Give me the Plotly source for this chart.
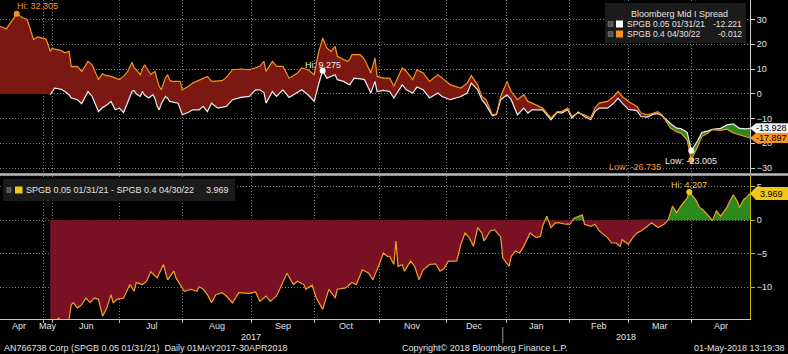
import numpy as np
import pandas as pd
import plotly.graph_objects as go

# ---------------- data ----------------
top_dates = [
    "2017-05-07", "2017-05-10", "2017-05-15", "2017-05-18", "2017-05-20", "2017-05-23", "2017-05-25", "2017-05-29",
    "2017-05-31", "2017-06-01", "2017-06-02", "2017-06-05", "2017-06-07", "2017-06-09", "2017-06-10", "2017-06-13", "2017-06-15", "2017-06-18",
    "2017-06-20", "2017-06-23", "2017-06-25", "2017-06-26", "2017-06-29", "2017-07-01", "2017-07-03", "2017-07-05", "2017-07-07", "2017-07-09",
    "2017-07-10", "2017-07-11", "2017-07-13", "2017-07-14", "2017-07-15", "2017-07-17", "2017-07-18", "2017-07-19", "2017-07-20", "2017-07-21",
    "2017-07-22", "2017-07-23", "2017-07-25", "2017-07-26", "2017-07-27", "2017-07-28", "2017-07-31", "2017-08-01", "2017-08-02", "2017-08-05",
    "2017-08-07", "2017-08-10", "2017-08-12", "2017-08-14", "2017-08-16", "2017-08-19", "2017-08-21", "2017-08-23", "2017-08-26", "2017-08-30",
    "2017-09-03", "2017-09-06", "2017-09-08", "2017-09-10", "2017-09-11", "2017-09-14", "2017-09-16", "2017-09-19", "2017-09-22", "2017-09-26",
    "2017-09-28", "2017-10-01", "2017-10-04", "2017-10-06", "2017-10-08", "2017-10-10", "2017-10-12", "2017-10-14", "2017-10-15", "2017-10-18",
    "2017-10-20", "2017-10-21", "2017-10-22", "2017-10-23", "2017-10-26", "2017-10-28", "2017-10-31", "2017-11-02", "2017-11-03", "2017-11-06",
    "2017-11-09", "2017-11-11", "2017-11-15", "2017-11-17", "2017-11-20", "2017-11-22", "2017-11-25", "2017-11-28", "2017-12-02", "2017-12-04",
    "2017-12-08", "2017-12-13", "2017-12-16", "2017-12-18", "2017-12-21", "2017-12-23", "2017-12-25", "2017-12-28", "2017-12-30", "2018-01-01",
    "2018-01-04", "2018-01-06", "2018-01-09", "2018-01-12", "2018-01-14", "2018-01-16", "2018-01-19", "2018-01-21", "2018-01-25", "2018-01-28",
    "2018-01-30", "2018-02-02", "2018-02-04", "2018-02-07", "2018-02-10", "2018-02-13", "2018-02-15", "2018-02-17", "2018-02-21", "2018-02-24",
    "2018-02-26", "2018-02-28", "2018-03-03", "2018-03-07", "2018-03-09", "2018-03-12", "2018-03-15", "2018-03-17", "2018-03-19", "2018-03-23",
    "2018-03-26", "2018-03-28", "2018-03-31", "2018-04-02", "2018-04-05", "2018-04-07", "2018-04-10", "2018-04-12", "2018-04-16", "2018-04-19",
    "2018-04-22", "2018-04-25", "2018-04-28", "2018-04-30",
]

# SPGB 0.4 04/30/22 (orange)
spgb_04_2022 = [
    27.3, 26.2, 32.305, 30.6, 30.0, 21.9, 23.0, 22.1,
    17.1, 18.5, 18.0, 17.5, 16.5, 17.1, 11.0, 11.1, 9.0, 13.1,
    11.7, 5.7, 8.1, 7.5, 7.0, 6.5, 5.7, 7.0, 9.0, 12.7,
    10.5, 9.7, 7.7, 10.0, 11.7, 9.0, 7.7, 8.5, 9.0, 5.7,
    3.0, 1.6, 6.5, 7.7, 5.5, 5.0, 5.0, 5.0, 1.6, 3.0,
    4.3, 5.5, 6.5, 7.0, 5.0, 5.2, 5.3, 6.5, 9.7, 10.0,
    9.7, 10.5, 11.1, 13.1, 9.0, 13.1, 11.1, 11.1, 6.3, 8.4,
    10.4, 9.7, 7.7, 16.5, 22.5, 18.5, 17.1, 19.1, 15.1, 13.8,
    13.1, 14.0, 15.8, 15.8, 15.8, 13.8, 8.4, 14.5, 7.0, 6.3,
    6.3, 3.0, 10.4, 9.0, 5.7, 9.7, 8.4, 5.0, 7.7, 6.3,
    3.6, 2.3, 4.3, 7.3, 3.6, -1.1, -2.4, -8.5, -8.1, -1.1,
    5.0, 0.9, -2.4, -0.4, -3.1, -3.8, -5.1, -5.8, -9.8, -7.2,
    -7.2, -5.8, -9.2, -7.8, -8.5, -9.8, -5.8, -3.8, -3.1, -1.1,
    0.9, -1.1, -3.1, -5.1, -7.8, -8.5, -7.8, -7.2, -8.5, -13.9,
    -15.3, -15.9, -18.6, -26.735, -21.3, -17.3, -15.9, -14.5, -14.8, -14.3,
    -15.8, -16.6, -17.4, -17.897,
]

# SPGB 0.05 01/31/21 (white)
spgb_005_2021 = [
    None, None, None, None, None, None, None, None,
    -0.4, 1.0, 2.3, 1.9, 0.9, -0.5, -1.7, -2.4, -4.0, 0.9,
    -1.1, -7.2, -5.5, -5.1, -3.1, -6.5, -5.8, -7.6, -3.0, 0.9,
    1.3, 0.0, -1.1, 0.9, -0.5, -1.7, -1.0, -0.4, -2.0, -5.0,
    -6.5, -4.0, -1.1, -1.8, -3.1, -3.3, -3.8, -6.0, -8.5, -7.5,
    -6.5, -6.5, -5.1, -7.2, -3.8, -5.8, -5.5, -5.1, -2.4, -1.5,
    -1.1, 1.6, 1.6, 0.5, -3.8, 0.9, -1.1, 1.6, -1.5, 0.5,
    1.6, -0.4, -3.1, 3.6, 9.275, 6.3, 7.0, 7.7, 5.7, 5.0,
    4.0, 3.6, 5.0, 6.3, 6.0, 5.7, 0.3, 5.0, 0.9, 1.4,
    0.9, -1.7, 3.6, 1.6, 0.3, 2.7, 1.6, -1.7, 0.3, -1.1,
    -2.4, -1.1, 0.3, 4.3, 1.6, -2.4, -4.5, -8.9, -8.4, -2.4,
    -0.4, -2.4, -8.5, -5.8, -7.8, -6.5, -6.5, -6.5, -10.5, -7.4,
    -7.8, -6.5, -9.8, -7.4, -9.2, -10.5, -7.2, -5.8, -5.8, -3.8,
    -1.8, -3.8, -6.3, -6.8, -9.2, -9.4, -8.2, -8.0, -8.9, -12.0,
    -13.9, -14.1, -15.6, -23.005, -19.0, -15.7, -15.0, -14.4, -14.0, -12.6,
    -12.2, -14.0, -14.2, -13.928,
]

# SPGB 0.05 01/31/21 - SPGB 0.4 04/30/22
spread_dates = [
    "2017-05-31", "2017-06-02", "2017-06-04", "2017-06-06", "2017-06-07", "2017-06-09", "2017-06-10", "2017-06-11", "2017-06-13", "2017-06-15",
    "2017-06-17", "2017-06-19", "2017-06-21", "2017-06-23", "2017-06-25", "2017-06-27", "2017-06-29", "2017-06-30", "2017-07-02", "2017-07-05",
    "2017-07-08", "2017-07-10", "2017-07-11", "2017-07-14", "2017-07-16", "2017-07-18", "2017-07-21", "2017-07-24", "2017-07-26", "2017-07-29",
    "2017-07-30", "2017-08-01", "2017-08-03", "2017-08-06", "2017-08-09", "2017-08-10", "2017-08-12", "2017-08-14", "2017-08-16", "2017-08-18",
    "2017-08-21", "2017-08-23", "2017-08-26", "2017-08-29", "2017-09-01", "2017-09-03", "2017-09-06", "2017-09-08", "2017-09-11", "2017-09-13",
    "2017-09-16", "2017-09-18", "2017-09-21", "2017-09-24", "2017-09-26", "2017-09-29", "2017-09-30", "2017-10-03", "2017-10-05", "2017-10-08",
    "2017-10-11", "2017-10-14", "2017-10-15", "2017-10-19", "2017-10-22", "2017-10-24", "2017-10-27", "2017-10-30", "2017-11-01", "2017-11-04",
    "2017-11-06", "2017-11-08", "2017-11-09", "2017-11-11", "2017-11-12", "2017-11-13", "2017-11-15", "2017-11-16", "2017-11-19", "2017-11-21",
    "2017-11-23", "2017-11-25", "2017-11-28", "2017-12-01", "2017-12-03", "2017-12-05", "2017-12-07", "2017-12-11", "2017-12-13", "2017-12-15",
    "2017-12-17", "2017-12-19", "2017-12-21", "2017-12-23", "2017-12-24", "2017-12-27", "2017-12-29", "2018-01-01", "2018-01-02", "2018-01-05",
    "2018-01-06", "2018-01-08", "2018-01-10", "2018-01-12", "2018-01-15", "2018-01-18", "2018-01-20", "2018-01-21", "2018-01-23", "2018-01-25",
    "2018-01-27", "2018-01-29", "2018-02-01", "2018-02-03", "2018-02-05", "2018-02-09", "2018-02-10", "2018-02-13", "2018-02-15", "2018-02-17",
    "2018-02-19", "2018-02-21", "2018-02-23", "2018-02-25", "2018-02-27", "2018-02-28", "2018-03-03", "2018-03-05", "2018-03-07", "2018-03-09",
    "2018-03-12", "2018-03-14", "2018-03-17", "2018-03-20", "2018-03-22", "2018-03-24", "2018-03-26", "2018-03-28", "2018-03-31", "2018-04-01",
    "2018-04-04", "2018-04-06", "2018-04-08", "2018-04-11", "2018-04-12", "2018-04-14", "2018-04-16", "2018-04-19", "2018-04-20", "2018-04-22",
    "2018-04-24", "2018-04-25", "2018-04-27", "2018-04-28", "2018-04-30",
]
spread_values = [
    -17.5, -15.5, -14.6, -15.5, -15.3, -14.7, -12.6, -12.3, -13.1, -12.6,
    -11.6, -12.3, -11.6, -11.8, -14.3, -13.1, -11.1, -12.3, -11.8, -11.6,
    -9.6, -10.6, -9.3, -9.6, -9.1, -7.7, -8.6, -6.6, -8.9, -7.6,
    -8.6, -9.6, -10.6, -10.3, -10.6, -9.9, -10.3, -11.1, -12.3, -11.1,
    -10.8, -11.3, -12.3, -10.8, -10.8, -10.9, -10.7, -12.1, -11.3, -12.1,
    -11.3, -9.9, -7.9, -9.6, -9.1, -9.6, -10.3, -9.7, -11.6, -13.3,
    -10.3, -11.6, -10.3, -10.1, -9.3, -9.6, -7.4, -7.9, -8.9, -6.6,
    -4.9, -5.4, -5.4, -6.6, -3.1, -6.9, -6.6, -7.6, -6.1, -6.9,
    -8.9, -7.4, -6.6, -6.5, -7.6, -7.2, -6.1, -6.1, -3.6, -1.9,
    -2.6, -3.9, -1.1, -1.9, -3.1, -1.6, -1.4, -2.5, -5.6, -6.9,
    -5.4, -4.6, -4.9, -3.9, -1.9, -2.6, -2.4, -0.9, 0.6, -1.1,
    -0.4, -0.4, -0.6, -0.6, 0.3, 0.8, -0.6, -0.9, -0.6, -1.6,
    -2.1, -2.6, -3.4, -3.4, -3.9, -2.9, -3.6, -2.6, -1.9, -1.6,
    -0.9, -0.4, -1.1, -0.6, 0.1, 2.1, 1.1, 2.1, 3.3, 4.207,
    3.1, 1.9, 1.4, 0.4, -0.1, 1.4, 0.6, 1.9, 2.6, 3.8,
    2.8, 1.9, 3.1, 3.3, 3.969,
]

grid_dates = ["2017-05-28", "2017-06-01", "2017-07-03", "2017-08-02", "2017-09-04", "2017-10-04",
              "2017-11-04", "2017-12-06", "2018-01-04", "2018-02-03", "2018-03-03", "2018-04-02"]
month_labels = ["Apr", "May", "Jun", "Jul", "Aug", "Sep", "Oct", "Nov", "Dec", "Jan", "Feb", "Mar", "Apr"]
month_label_dates = ["2017-05-16", "2017-05-30", "2017-06-17 12:00", "2017-07-18 13:00", "2017-08-18 14:00",
                     "2017-09-19", "2017-10-19 14:00", "2017-11-19 17:00", "2017-12-19 17:00", "2018-01-18",
                     "2018-02-16 22:00", "2018-03-18", "2018-04-16"]
year_labels = ["2017", "2018"]
year_label_dates = ["2017-09-04", "2018-03-02"]
year_break_date = "2018-01-02"
top_ticks = [30, 20, 10, 0, -10, -20, -30]
bottom_ticks = [5, 0, -5, -10]
x_range = ["2017-05-07", "2018-04-30"]
legend_top_values = ["-12.221", "-0.012"]

# ---------------- style ----------------
BG = "#000000"
ORANGE = "#f39420"
WHITE = "#ececec"
RED_TOP = "#7b1812"
RED_BOT = "#7a1024"
GREEN = "#2c8a1c"
SPREAD_LINE = "#f0a224"
YELLOW = "#f2c619"
GRID = "#7a7a7a"
TXT = "#e2e2e2"
FONT = "Liberation Sans, Arial, sans-serif"

W_PLOT, H_PLOT = 750, 319


def px(x):
    return x / W_PLOT


def py(y):
    return (H_PLOT - y) / H_PLOT


def densify(dates, a, b):
    t = pd.to_datetime(pd.Series(dates))
    xs, ya, yb = [], [], []
    for i in range(len(t)):
        if i > 0:
            d0 = a[i - 1] - b[i - 1]
            d1 = a[i] - b[i]
            if d0 * d1 < 0:
                f = d0 / (d0 - d1)
                tc = t[i - 1] + (t[i] - t[i - 1]) * f
                yc = a[i - 1] + (a[i] - a[i - 1]) * f
                xs.append(tc); ya.append(yc); yb.append(yc)
        xs.append(t[i]); ya.append(a[i]); yb.append(b[i])
    xs = [x.strftime("%Y-%m-%d %H:%M:%S") for x in xs]
    return xs, np.array(ya, float), np.array(yb, float)


def band(xs, upper, lower):
    return xs + xs[::-1], list(upper) + list(lower[::-1])


o = np.array(spgb_04_2022, float)
w = np.array([np.nan if v is None else v for v in spgb_005_2021], float)
base = np.where(np.isnan(w), 0.0, w)
s = np.array(spread_values, float)

fig = go.Figure()

# top fills
xs, oa, wb = densify(top_dates, o, base)
hi = np.maximum(oa, wb)
bx, by = band(xs, hi, wb)
fig.add_trace(go.Scatter(x=bx, y=by, fill="toself", fillcolor=RED_TOP, mode="lines",
                         line=dict(width=0), hoverinfo="skip", xaxis="x", yaxis="y"))
bx, by = band(xs, hi, oa)
fig.add_trace(go.Scatter(x=bx, y=by, fill="toself", fillcolor=GREEN, mode="lines",
                         line=dict(width=0), hoverinfo="skip", xaxis="x", yaxis="y"))

# top lines
fig.add_trace(go.Scatter(x=top_dates, y=spgb_005_2021, mode="lines", line=dict(color=WHITE, width=1.2),
                         hoverinfo="skip", xaxis="x", yaxis="y"))
fig.add_trace(go.Scatter(x=top_dates, y=spgb_04_2022, mode="lines", line=dict(color=ORANGE, width=1.2),
                         hoverinfo="skip", xaxis="x", yaxis="y"))

# bottom fills
xs2, sa, zb = densify(spread_dates, s, np.zeros_like(s))
bx, by = band(xs2, np.maximum(sa, 0), zb)
fig.add_trace(go.Scatter(x=bx, y=by, fill="toself", fillcolor=GREEN, mode="lines",
                         line=dict(width=0), hoverinfo="skip", xaxis="x2", yaxis="y2"))
bx, by = band(xs2, np.minimum(sa, 0), zb)
fig.add_trace(go.Scatter(x=bx, y=by, fill="toself", fillcolor=RED_BOT, mode="lines",
                         line=dict(width=0), hoverinfo="skip", xaxis="x2", yaxis="y2"))
fig.add_trace(go.Scatter(x=spread_dates, y=spread_values, mode="lines", line=dict(color=SPREAD_LINE, width=1.2),
                         hoverinfo="skip", xaxis="x2", yaxis="y2"))

# hi / low markers
i_ohi, i_olo = int(np.argmax(o)), int(np.argmin(o))
i_whi, i_wlo = int(np.nanargmax(w)), int(np.nanargmin(w))
i_shi = int(np.argmax(s))
fig.add_trace(go.Scatter(x=[top_dates[i_ohi], top_dates[i_olo]], y=[o[i_ohi], o[i_olo]], mode="markers",
                         marker=dict(color=ORANGE, size=6), hoverinfo="skip", xaxis="x", yaxis="y"))
fig.add_trace(go.Scatter(x=[top_dates[i_whi], top_dates[i_wlo]], y=[w[i_whi], w[i_wlo]], mode="markers",
                         marker=dict(color="#ffffff", size=6), hoverinfo="skip", xaxis="x", yaxis="y"))
fig.add_trace(go.Scatter(x=[spread_dates[i_shi]], y=[s[i_shi]], mode="markers",
                         marker=dict(color=YELLOW, size=6), hoverinfo="skip", xaxis="x2", yaxis="y2"))

ann = []


def text(x, y, t, color=TXT, size=9, xanchor="center", yanchor="middle", xref="paper", yref="paper", **kw):
    ann.append(dict(x=x, y=y, text=t, xref=xref, yref=yref, xanchor=xanchor, yanchor=yanchor,
                    showarrow=False, font=dict(family=FONT, size=size, color=color), **kw))


# hi/low labels
text(top_dates[i_ohi], o[i_ohi], f"Hi: {o[i_ohi]:.3f}", ORANGE, xanchor="left", yanchor="bottom",
     xref="x", yref="y", xshift=-2, yshift=1)
text(top_dates[i_olo], o[i_olo], f"Low: {o[i_olo]:.3f}", ORANGE, xanchor="right", yanchor="middle",
     xref="x", yref="y", xshift=-28, yshift=-7)
text(top_dates[i_whi], w[i_whi], f"Hi: {w[i_whi]:.3f}", WHITE, xanchor="center", yanchor="bottom",
     xref="x", yref="y", yshift=-1)
text(top_dates[i_wlo], w[i_wlo], f"Low: {w[i_wlo]:.3f}", WHITE, xanchor="center", yanchor="top",
     xref="x", yref="y", yshift=-3)
text(spread_dates[i_shi], s[i_shi], f"Hi: {s[i_shi]:.3f}", "#e8c23a", xanchor="center", yanchor="bottom",
     xref="x2", yref="y2", yshift=0)

shapes = []


# end value boxes
def end_box(v, yref, half, fill, color="#000000"):
    x0, x1, x2 = px(750), px(756), px(788)
    path = f"M {x0},{v} L {x1},{v + half} L {x2},{v + half} L {x2},{v - half} L {x1},{v - half} Z"
    shapes.append(dict(type="path", path=path, xref="paper", yref=yref, fillcolor=fill,
                       line=dict(width=0), layer="above"))
    text(px(771), v, f"{v:.3f}", color, xanchor="center", yanchor="middle", yref=yref)


end_box(w[-1], "y", 5.0 / 2.475, "#f2f2f2")
end_box(o[-1], "y", 5.0 / 2.475, "#f7931e")
end_box(s[-1], "y2", 6.5 / 6.707, YELLOW)

# top legend
shapes.append(dict(type="rect", xref="paper", yref="paper", x0=px(605), x1=px(746), y0=py(43), y1=py(3),
                   fillcolor="#1b1b1b", line=dict(width=0), layer="above"))
text(px(679), py(14), "Bloomberg Mid I Spread", TXT)
for k, (nm, val, col) in enumerate([("SPGB 0.05 01/31/21", legend_top_values[0], "#ffffff"),
                                    ("SPGB 0.4 04/30/22", legend_top_values[1], ORANGE)]):
    yc = 24 + 10 * k
    shapes.append(dict(type="rect", xref="paper", yref="paper", x0=px(608), x1=px(613), y0=py(yc + 2.5),
                       y1=py(yc - 2.5), fillcolor="#555555", line=dict(color="#888888", width=0.5), layer="above"))
    shapes.append(dict(type="rect", xref="paper", yref="paper", x0=px(616), x1=px(623), y0=py(yc + 3.5),
                       y1=py(yc - 3.5), fillcolor=col, line=dict(width=0), layer="above"))
    text(px(625), py(yc), nm, TXT, size=8.5, xanchor="left")
    text(px(744), py(yc), val, TXT, size=8.5, xanchor="right")

# bottom legend
shapes.append(dict(type="rect", xref="paper", yref="paper", x0=px(3), x1=px(235), y0=py(201), y1=py(179),
                   fillcolor="#1b1b1b", line=dict(width=0), layer="above"))
shapes.append(dict(type="rect", xref="paper", yref="paper", x0=px(7), x1=px(11), y0=py(192.5), y1=py(187.5),
                   fillcolor="#555555", line=dict(color="#888888", width=0.5), layer="above"))
shapes.append(dict(type="rect", xref="paper", yref="paper", x0=px(15), x1=px(22.5), y0=py(193.5), y1=py(186.5),
                   fillcolor=YELLOW, line=dict(width=0), layer="above"))
text(px(24), py(190), "SPGB 0.05 01/31/21 - SPGB 0.4 04/30/22", TXT, xanchor="left")
text(px(231), py(190), f"{s[-1]:.3f}", TXT, xanchor="right")

# panel separator
shapes.append(dict(type="line", xref="paper", yref="paper", x0=0, x1=px(788), y0=py(174.6), y1=py(174.6),
                   line=dict(color="#bcbcbc", width=2.5), layer="above"))
# year break marker
shapes.append(dict(type="line", xref="x2", yref="paper", x0=year_break_date, x1=year_break_date,
                   y0=py(327), y1=py(343), line=dict(color="#9a9a9a", width=1), layer="above"))

# x labels
for lab, d in zip(month_labels, month_label_dates):
    text(d, py(326), lab, TXT, xref="x2")
for lab, d in zip(year_labels, year_label_dates):
    text(d, py(337), lab, TXT, xref="x2")

# footer
text(px(2), py(348), "AN766738 Corp (SPGB 0.05 01/31/21)  Daily 01MAY2017-30APR2018", TXT, xanchor="left")
text(px(485), py(348), "Copyright\u00a9 2018 Bloomberg Finance L.P.", TXT)
text(px(787), py(348), "01-May-2018 13:19:38", TXT, xanchor="right")

grid = dict(showgrid=True, gridcolor=GRID, gridwidth=1, griddash="1px,2px")
tickfont = dict(family=FONT, size=9, color=TXT)

top_scale_top = 93.75 / 2.475
top_scale_bot = (93.75 - 173) / 2.475
bot_scale_top = (220.2 - 176) / 6.707
bot_scale_bot = (220.2 - 319) / 6.707

fig.update_layout(
    width=788, height=354,
    margin=dict(l=0, r=38, t=0, b=35),
    paper_bgcolor=BG, plot_bgcolor=BG,
    showlegend=False, hovermode=False,
    font=dict(family=FONT, size=9, color=TXT),
    xaxis=dict(domain=[0, 1], anchor="y", type="date", range=x_range, tickvals=grid_dates,
               showticklabels=False, ticks="", showline=False, zeroline=False, **grid),
    yaxis=dict(domain=[py(173), 1], anchor="x", side="right", range=[top_scale_bot, top_scale_top],
               tickvals=top_ticks, ticks="outside", ticklen=4, tickcolor="#d0d0d0", tickfont=tickfont,
               showline=True, linecolor="#d0d0d0", linewidth=1, zeroline=False, **grid),
    xaxis2=dict(domain=[0, 1], anchor="y2", type="date", range=x_range, tickvals=grid_dates,
                showticklabels=False, ticks="outside", ticklen=3, tickcolor="#bbbbbb",
                showline=True, linecolor="#c8c8c8", linewidth=1, zeroline=False, **grid),
    yaxis2=dict(domain=[0, py(176)], anchor="x2", side="right", range=[bot_scale_bot, bot_scale_top],
                tickvals=bottom_ticks, ticks="outside", ticklen=4, tickcolor="#c8b400", tickfont=tickfont,
                showline=True, linecolor="#c8b400", linewidth=1, zeroline=False, **grid),
    annotations=ann,
    shapes=shapes,
)

fig.write_html("out.html")
